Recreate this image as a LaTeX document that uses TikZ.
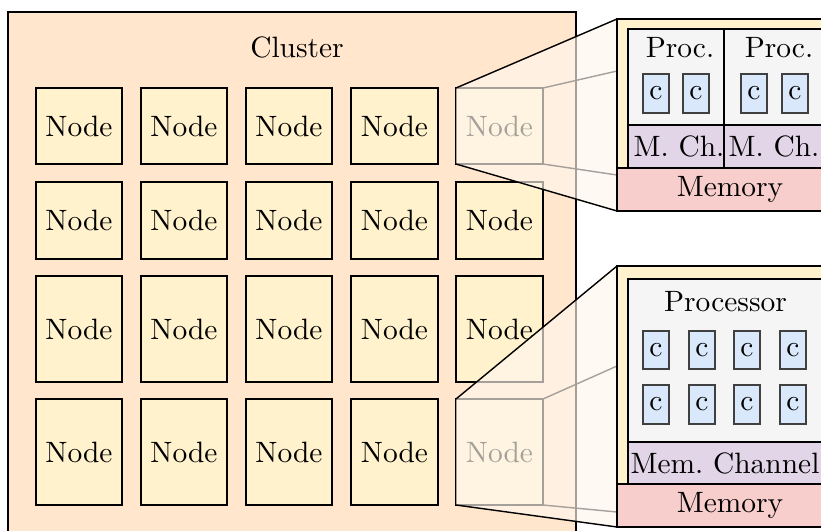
\documentclass[tikz,border=0pt]{standalone}
\usetikzlibrary{fit}
\definecolor{clusterCol}{HTML}{FFE6CC}
\definecolor{nodeCol}{HTML}{FFF2CC}
\definecolor{procCol}{HTML}{F5F5F5}
\definecolor{coreCol}{HTML}{DAE8FC}
\definecolor{chanCol}{HTML}{E1D5E7}
\definecolor{memCol}{HTML}{F8CECC}
\definecolor{coneCol}{HTML}{FFF6EE}
\begin{document}
\begin{tikzpicture}[x=0.3534pt,y=-0.3534pt,
  font=\fontsize{10.4}{12.5}\selectfont,
  line width=0.5pt,
  box/.style={draw=black, inner sep=0pt, outer sep=0pt},
  clusterbox/.style={box, fill=clusterCol},
  nodebox/.style={box, fill=nodeCol},
  procbox/.style={box, fill=procCol},
  corebox/.style={box, draw=black!75, fill=coreCol},
  chanbox/.style={box, fill=chanCol},
  membox/.style={box, fill=memCol},
  txt/.style={label={[inner sep=0pt]center:#1}},
  cone/.style={fill=coneCol, fill opacity=0.65},
  edge/.style={draw=black},
]
\useasboundingbox (0,0) rectangle (821,530);
\clip (0,0) rectangle (821,530);

% cluster
\node[clusterbox, fit={(8,12) (576,545)}] (cluster) {};
\node (clabel) at (297,47) {Cluster};

% grid of nodes
\foreach \r/\ya/\yb in {1/88/164, 2/182/259, 3/276/382, 4/399/505}{
  \foreach \c/\xa/\xb in {1/36/122, 2/141/227, 3/246/332, 4/351/438, 5/456/543}{
    \node[nodebox, fit={(\xa,\ya) (\xb,\yb)}, txt=Node] (n\r\c) {};
  }
}

% detail boxes
\node[nodebox, fit={(617,19) (840,211)}] (topbox) {};
\node[nodebox, fit={(617,266) (840,527)}] (botbox) {};

% back edges (seen through the cone)
\coordinate (ta) at (617,71);
\coordinate (tb) at (617,175);
\coordinate (ba) at (617,366);
\coordinate (bb) at (617,512);
\draw[edge] (n15.north east) -- (ta);
\draw[edge] (n15.south east) -- (tb);
\draw[edge] (n45.north east) -- (ba);
\draw[edge] (n45.south east) -- (bb);

% cones
\fill[cone] (n15.north west) -- (topbox.north west) -- (topbox.south west) -- (n15.south west) -- cycle;
\fill[cone] (n45.north west) -- (botbox.north west) -- (botbox.south west) -- (n45.south west) -- cycle;
\draw[edge] (n15.north west) -- (topbox.north west);
\draw[edge] (n15.south west) -- (topbox.south west);
\draw[edge] (n45.north west) -- (botbox.north west);
\draw[edge] (n45.south west) -- (botbox.south west);

% top detail box content
\node[nodebox, fit={(617,19) (840,211)}] (topbox2) {};
\node[procbox, fit={(628,29) (724,125)}] (p1) {};
\node[procbox, fit={(724,29) (826,125)}] (p2) {};
\node (p1l) at (680,48) {Proc.};
\node (p2l) at (779,48) {Proc.};
\node[corebox, fit={(643,74) (669,113)}, txt=c] (tc1) {};
\node[corebox, fit={(683,74) (709,113)}, txt=c] (tc2) {};
\node[corebox, fit={(741,74) (767,113)}, txt=c] (tc3) {};
\node[corebox, fit={(782,74) (808,113)}, txt=c] (tc4) {};
\node[chanbox, fit={(628,125) (724,168)}] (ch1) {};
\node[chanbox, fit={(724,125) (826,168)}] (ch2) {};
\node (ch1l) at (679,146.5) {M. Ch.};
\node (ch2l) at (774,146.5) {M. Ch.};
\node[membox, fit={(617,168) (840,211)}] (mem1) {};
\node (mem1l) at (730,189.5) {Memory};

% bottom detail box content
\node[nodebox, fit={(617,266) (840,527)}] (botbox2) {};
\node[procbox, fit={(628,279) (826,442)}] (pb) {};
\node (pbl) at (725.5,302) {Processor};
\foreach \i/\xa in {1/643, 2/689, 3/734, 4/780}{
  \node[corebox, fit={(\xa,331) (\xa+26,369)}, txt=c] (bc\i) {};
  \node[corebox, fit={(\xa,385) (\xa+26,424)}, txt=c] (bd\i) {};
}
\node[chanbox, fit={(628,442) (826,484)}] (chb) {};
\node (chbl) at (725,463) {Mem.\ Channel};
\node[membox, fit={(617,484) (840,527)}] (mem2) {};
\node (mem2l) at (730,505.5) {Memory};
\end{tikzpicture}
\end{document}
